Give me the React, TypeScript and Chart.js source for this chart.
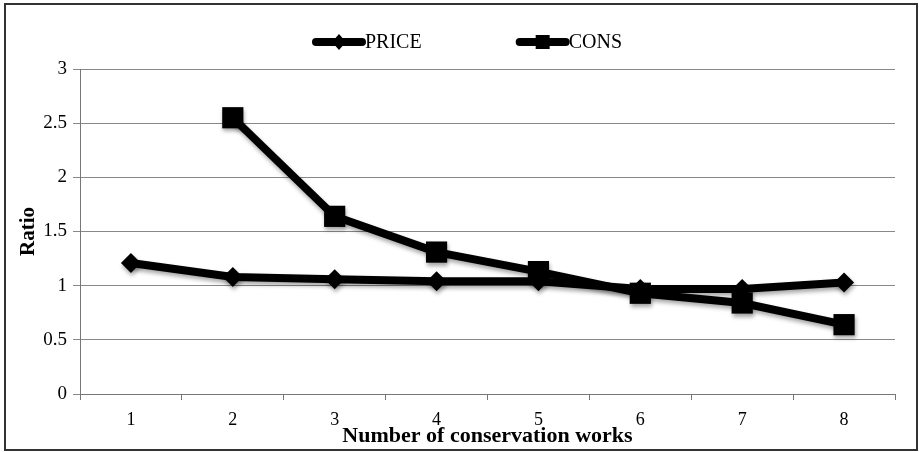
import React, { useEffect, useRef } from "react";
import { Chart, registerables } from "chart.js";

Chart.register(...registerables);

const categories = ["1", "2", "3", "4", "5", "6", "7", "8"];
const priceValues = [1.21, 1.08, 1.06, 1.04, 1.04, 0.97, 0.97, 1.03];
const consValues = [null, 2.55, 1.64, 1.31, 1.13, 0.93, 0.84, 0.64];
const seriesLabels = ["PRICE", "CONS"];
const yTicks = [0, 0.5, 1, 1.5, 2, 2.5, 3];
const yTickLabels = ["0", "0.5", "1", "1.5", "2", "2.5", "3"];

const FONT = "'Liberation Serif', 'Times New Roman', serif";

const shadowPlugin = {
  id: "shadowPlugin",
  beforeDatasetsDraw(chart: any) {
    const ctx = chart.ctx;
    ctx.save();
    ctx.shadowColor = "rgba(0,0,0,0.35)";
    ctx.shadowBlur = 4;
    ctx.shadowOffsetX = 1;
    ctx.shadowOffsetY = 3;
  },
  afterDatasetsDraw(chart: any) {
    chart.ctx.restore();
  },
};

const legendPlugin = {
  id: "customLegend",
  afterDraw(chart: any) {
    const ctx = chart.ctx;
    ctx.save();
    ctx.font = `20px ${FONT}`;
    const lineLen = 52;
    const gap = 95;
    const items = chart.data.datasets.map((d: any) => ({
      label: d.label,
      style: d.pointStyle,
      w: lineLen + ctx.measureText(d.label).width,
    }));
    const total = items.reduce((s: number, it: any) => s + it.w, 0) + gap * (items.length - 1);
    let x = chart.width / 2 + 8 - total / 2;
    const y = 42;
    items.forEach((it: any) => {
      ctx.strokeStyle = "#000";
      ctx.fillStyle = "#000";
      ctx.lineWidth = 8;
      ctx.lineCap = "round";
      ctx.beginPath();
      ctx.moveTo(x + 3, y);
      ctx.lineTo(x + lineLen - 3, y);
      ctx.stroke();
      const cx = x + lineLen / 2;
      ctx.beginPath();
      if (it.style === "rect") {
        ctx.rect(cx - 7, y - 7, 14, 14);
      } else {
        ctx.moveTo(cx, y - 8);
        ctx.lineTo(cx + 7, y);
        ctx.lineTo(cx, y + 8);
        ctx.lineTo(cx - 7, y);
        ctx.closePath();
      }
      ctx.fill();
      ctx.textBaseline = "middle";
      ctx.textAlign = "left";
      ctx.fillText(it.label, x + lineLen, y + 1);
      x += it.w + gap;
    });
    ctx.restore();
  },
};

export default function App() {
  const canvasRef = useRef<HTMLCanvasElement | null>(null);

  useEffect(() => {
    document.body.style.margin = "0";
    const canvas = canvasRef.current!;
    const chart = new Chart(canvas, {
      type: "line",
      data: {
        labels: categories,
        datasets: [
          {
            label: seriesLabels[0],
            data: priceValues,
            borderColor: "#000",
            backgroundColor: "#000",
            borderWidth: 8,
            pointStyle: "rectRot",
            pointRadius: 10,
            pointBorderWidth: 0,
            pointBackgroundColor: "#000",
            tension: 0,
          },
          {
            label: seriesLabels[1],
            data: consValues,
            borderColor: "#000",
            backgroundColor: "#000",
            borderWidth: 8,
            pointStyle: "rect",
            pointRadius: 15,
            pointBorderWidth: 0,
            pointBackgroundColor: "#000",
            tension: 0,
            spanGaps: false,
          },
        ],
      },
      options: {
        animation: false,
        responsive: false,
        maintainAspectRatio: false,
        layout: { padding: { top: 69, right: 24, left: 0, bottom: 0 } },
        plugins: {
          legend: { display: false },
          tooltip: { enabled: false },
        },
        scales: {
          x: {
            type: "category",
            offset: true,
            grid: {
              offset: true,
              drawOnChartArea: false,
              drawTicks: true,
              tickLength: 6,
              color: "#777",
            },
            border: { color: "#777", width: 1 },
            ticks: {
              color: "#000",
              font: { family: FONT, size: 18 },
              padding: 9,
              maxRotation: 0,
            },
            title: {
              display: true,
              text: "Number of conservation works",
              color: "#000",
              font: { family: FONT, size: 22, weight: "bold" },
              padding: { top: 0, bottom: 2 },
            },
            afterFit(scale: any) {
              scale.height = 58;
            },
          },
          y: {
            min: 0,
            max: 3,
            afterBuildTicks(scale: any) {
              scale.ticks = yTicks.map((v) => ({ value: v }));
            },
            grid: {
              color: "#888",
              lineWidth: 1,
              drawTicks: true,
              tickLength: 7,
            },
            border: { color: "#777", width: 1 },
            ticks: {
              color: "#000",
              font: { family: FONT, size: 19 },
              padding: 6,
              callback: (_v: any, i: number) => yTickLabels[i],
            },
            title: {
              display: true,
              text: "Ratio",
              color: "#000",
              font: { family: FONT, size: 21, weight: "bold" },
              padding: { top: 16, bottom: 0 },
            },
            afterFit(scale: any) {
              scale.width = 80;
            },
          },
        },
      },
      plugins: [shadowPlugin, legendPlugin],
    } as any);
    return () => chart.destroy();
  }, []);

  return (
    <div style={{ position: "relative", width: 919, height: 452, background: "#fff" }}>
      <canvas ref={canvasRef} width={919} height={452} style={{ position: "absolute", left: 0, top: 0 }} />
      <div
        style={{
          position: "absolute",
          left: 4,
          top: 3,
          width: 910,
          height: 444,
          border: "2px solid #333",
          pointerEvents: "none",
        }}
      />
    </div>
  );
}
